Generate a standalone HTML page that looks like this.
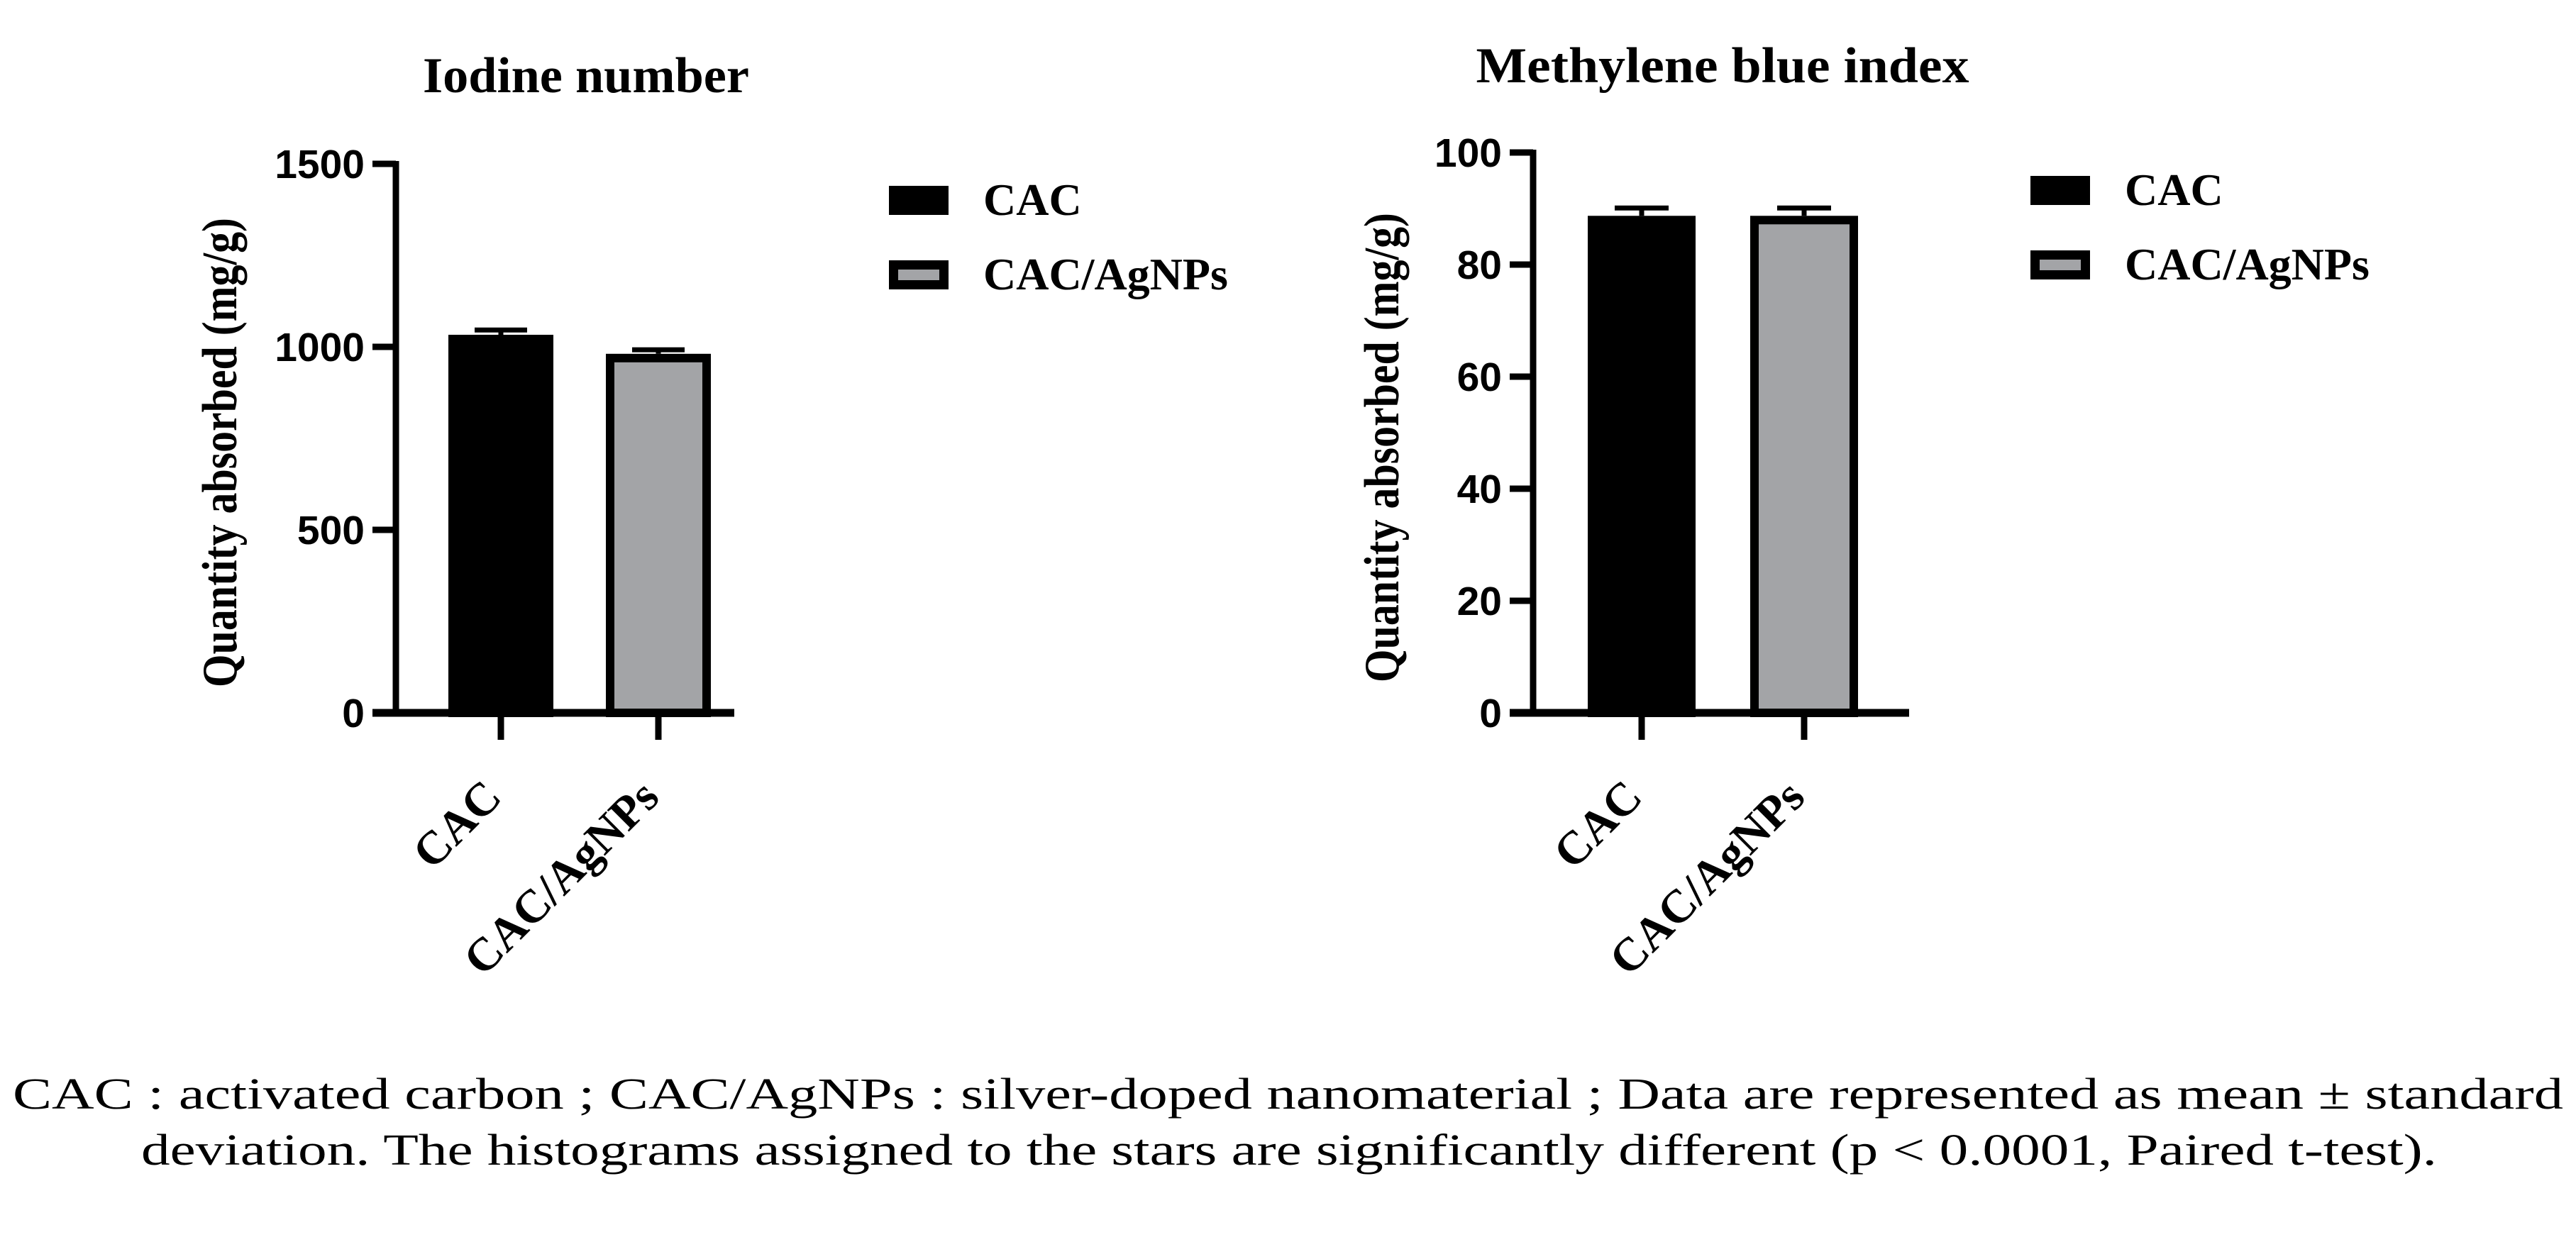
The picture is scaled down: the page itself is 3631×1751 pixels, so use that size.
<!DOCTYPE html>
<html><head><meta charset="utf-8"><style>
html,body{margin:0;padding:0;background:#fff;}
svg{display:block;}
.tb{font-family:"Liberation Serif",serif;font-weight:bold;}
.ax{font-family:"Liberation Sans",sans-serif;font-weight:bold;}
</style></head><body>
<svg id="fig" width="3631" height="1751" viewBox="0 0 3631 1751" xmlns="http://www.w3.org/2000/svg">
<g id="left"></g>
<g id="right"></g>
<text x="18" y="1563" font-family="Liberation Serif, serif" font-size="62" textLength="3595" lengthAdjust="spacingAndGlyphs">CAC : activated carbon ; CAC/AgNPs : silver-doped nanomaterial ; Data are represented as mean ± standard</text>
<text x="199" y="1642" font-family="Liberation Serif, serif" font-size="62" textLength="3236" lengthAdjust="spacingAndGlyphs">deviation. The histograms assigned to the stars are significantly different (p &lt; 0.0001, Paired t-test).</text>
</svg>
<script>
const categories = ["CAC", "CAC/AgNPs"];
const iodineValues = [1033, 981];
const iodineErrors = [13, 11];
const iodineTicks = [0, 500, 1000, 1500];
const mbValues = [88.7, 88.7];
const mbErrors = [1.4, 1.4];
const mbTicks = [0, 20, 40, 60, 80, 100];
const fills = ["#000000", "#a3a4a7"];

const NS = "http://www.w3.org/2000/svg";
function mk(parent, tag, attrs, text) {
  const e = document.createElementNS(NS, tag);
  for (const k in attrs) e.setAttribute(k, attrs[k]);
  if (text !== undefined) e.textContent = text;
  parent.appendChild(e);
  return e;
}

function drawChart(g, cfg) {
  const yScale = v => cfg.y0 - (v - cfg.vmin) / (cfg.vmax - cfg.vmin) * (cfg.y0 - cfg.y1);
  const xCenter = i => cfg.barX0 + cfg.barW / 2 + i * cfg.barStep;

  const title = mk(g, "text", {x: cfg.titleX, y: cfg.titleY, "text-anchor": "middle", "class": "tb", "font-size": 71, textLength: cfg.titleLen, lengthAdjust: "spacingAndGlyphs"}, cfg.title);
  
  

  const yt = mk(g, "text", {x: 0, y: 0, "text-anchor": "middle", "class": "tb", "font-size": 70, textLength: 662, lengthAdjust: "spacingAndGlyphs", transform: `translate(${cfg.ytX},${cfg.ytY}) rotate(-90)`}, "Quantity absorbed (mg/g)");
  
  

  cfg.values.forEach((v, i) => {
    const x = cfg.barX0 + i * cfg.barStep;
    const top = yScale(v);
    const bar = mk(g, "rect", {x: x + 6, y: top + 6, width: cfg.barW - 12, height: cfg.y0 - top - 6, fill: fills[i], stroke: "#000", "stroke-width": 12});
    
    
    const et = yScale(v + cfg.errors[i]);
    const cx = xCenter(i);
    const eb = mk(g, "path", {d: `M${cx},${top} L${cx},${et} M${cx - cfg.capW / 2},${et} L${cx + cfg.capW / 2},${et}`, stroke: "#000", "stroke-width": 7, fill: "none"});
    
    
  });

  const ya = mk(g, "line", {x1: cfg.axisX, y1: yScale(cfg.vmax) - 4, x2: cfg.axisX, y2: cfg.y0 + 4, stroke: "#000", "stroke-width": 9});
  
  
  cfg.ticks.forEach(t => {
    const y = yScale(t);
    const tl = mk(g, "line", {x1: cfg.axisX - 33, y1: y, x2: cfg.axisX, y2: y, stroke: "#000", "stroke-width": 9});
    
    
    const lb = mk(g, "text", {x: cfg.axisX - 44, y: y + 20, "text-anchor": "end", "class": "ax", "font-size": 57}, String(t));
    
    
  });
  const xa = mk(g, "line", {x1: cfg.axisX - 33, y1: cfg.y0, x2: cfg.xEnd, y2: cfg.y0, stroke: "#000", "stroke-width": 11});
  
  
  categories.forEach((c, i) => {
    const cx = xCenter(i);
    const tk = mk(g, "line", {x1: cx, y1: cfg.y0, x2: cx, y2: cfg.y0 + 38, stroke: "#000", "stroke-width": 9});
    
    
    const lb = mk(g, "text", {x: 0, y: 0, "text-anchor": "end", "class": "tb", "font-size": 66, transform: `translate(${cx + 4},${cfg.y0 + 122}) rotate(-45)`}, c);
    
    
  });

  categories.forEach((c, i) => {
    const y = cfg.legY + i * 105;
    const sw = mk(g, "rect", {x: cfg.legX + 6.5, y: y + 6.5, width: 71, height: 28, fill: fills[i], stroke: "#000", "stroke-width": 13});
    
    
    const lt = mk(g, "text", {x: cfg.legX + 133, y: y + 41, "class": "tb", "font-size": 64}, c);
    
    
  });
}

drawChart(document.getElementById("left"), {
  title: "Iodine number", titleX: 826, titleY: 130, titleLen: 460,
  values: iodineValues, errors: iodineErrors, ticks: iodineTicks,
  vmin: 0, vmax: 1500, y0: 1005, y1: 231,
  axisX: 558, xEnd: 1035, barX0: 632, barW: 148, barStep: 222, capW: 74,
  ytX: 333, ytY: 638, legX: 1253, legY: 262
});
drawChart(document.getElementById("right"), {
  title: "Methylene blue index", titleX: 2428, titleY: 116, titleLen: 695,
  values: mbValues, errors: mbErrors, ticks: mbTicks,
  vmin: 0, vmax: 100, y0: 1005, y1: 215,
  axisX: 2161, xEnd: 2691, barX0: 2238, barW: 152, barStep: 229, capW: 76,
  ytX: 1971, ytY: 631, legX: 2862, legY: 248
});
</script>
</body></html>
